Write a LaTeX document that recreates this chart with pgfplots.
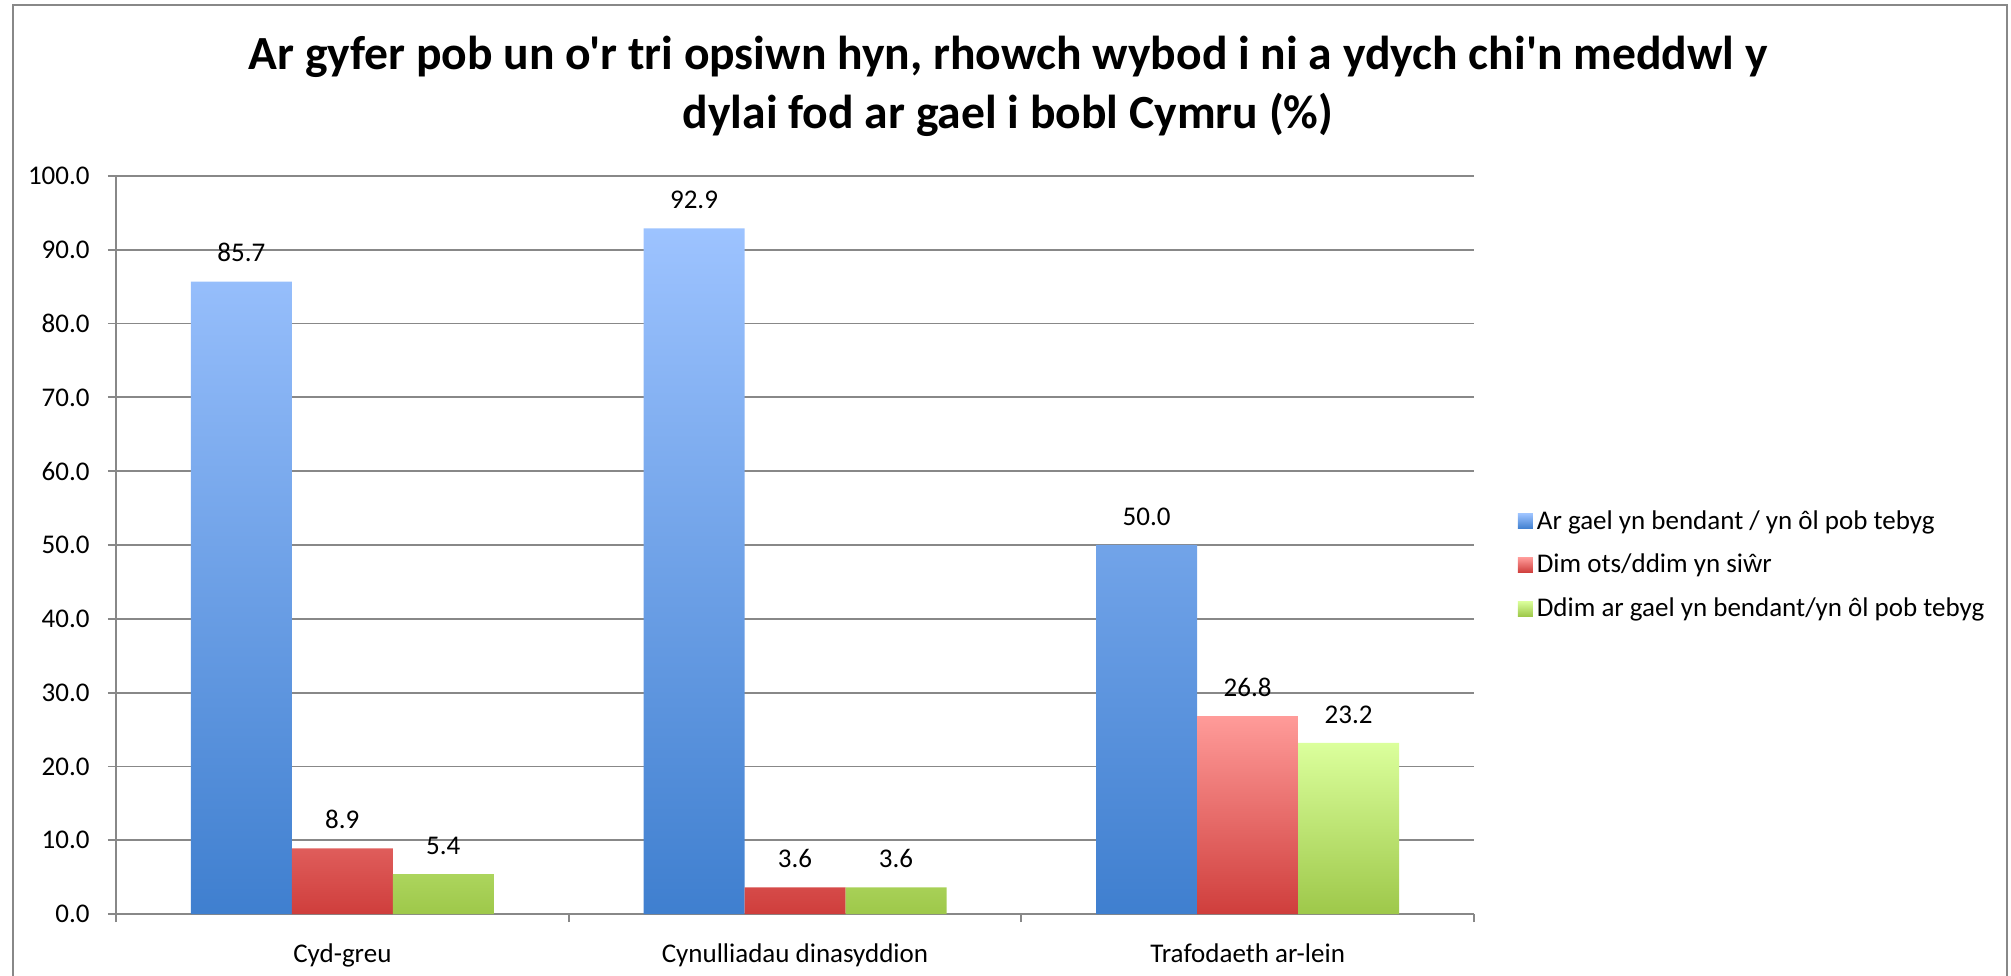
\documentclass[border=0pt]{standalone}
\usepackage{fontspec}
\setmainfont{Carlito}[Ligatures=TeXOff]
\usepackage{pgfplots}
\pgfplotsset{compat=1.18}
\definecolor{gridc}{HTML}{888888}
\definecolor{bluetop}{HTML}{9DC3FF}
\definecolor{bluebot}{HTML}{3F7FCF}
\definecolor{redtop}{HTML}{FF9B99}
\definecolor{redbot}{HTML}{CF3E3C}
\definecolor{greentop}{HTML}{DBFF9C}
\definecolor{greenbot}{HTML}{9EC84A}
\begin{document}
\begin{tikzpicture}
\useasboundingbox (0,0) rectangle (1005.5pt,487.5pt);
\draw[gridc, line width=1pt] (6.5pt,-3pt) -- (6.5pt,485pt) -- (1003.5pt,485pt) -- (1003.5pt,-3pt);
\node[font=\bfseries\fontsize{23.8}{28}\selectfont, anchor=base] at (504pt,452.5pt) {Ar gyfer pob un o'r tri opsiwn hyn, rhowch wybod i ni a ydych chi'n meddwl y};
\node[font=\bfseries\fontsize{23.8}{28}\selectfont, anchor=base] at (504pt,423pt) {dylai fod ar gael i bobl Cymru (\%)};
\begin{axis}[
  at={(58pt,30.5pt)}, anchor=south west,
  scale only axis, width=679pt, height=369pt,
  xmin=-0.5, xmax=2.5, ymin=0, ymax=100,
  axis lines*=left,
  axis line style={gridc, line width=0.9pt, -},
  ytick={0,10,...,100},
  ymajorgrids, grid style={gridc, line width=0.9pt},
  tick align=outside, major tick length=4pt,
  tick style={gridc, line width=0.9pt},
  xtick={-0.5,0.5,1.5,2.5}, xticklabels={},
  extra x ticks={0,1,2},
  extra x tick labels={Cyd-greu, Cynulliadau dinasyddion, Trafodaeth ar-lein},
  extra x tick style={major tick length=0pt, grid=none,
     xticklabel style={anchor=base, yshift=-24pt}},
  ticklabel style={font=\fontsize{13.5}{16}\selectfont},
  yticklabel style={anchor=east, inner sep=0pt, xshift=-9pt},
  /pgf/number format/.cd, fixed, fixed zerofill, precision=1, assume math mode=true,
  /pgfplots/.cd,
  ybar, bar width=50.5pt,
  nodes near coords,
  every node near coord/.append style={font=\fontsize{13.5}{16}\selectfont, text=black, anchor=south, inner sep=0pt, yshift=9.5pt},
  legend style={at={(1.032,0.473)}, anchor=west, draw=none, fill=none,
     font=\fontsize{13.5}{16}\selectfont, row sep=7pt, inner sep=0pt},
  legend cell align=left,
  legend image code/.code={\fill[#1] (0pt,-3.75pt) rectangle (7.5pt,3.75pt);},
]
\addplot[draw=none, top color=bluetop, bottom color=bluebot, bar shift=-50.5pt] coordinates {(0,85.7) (1,92.9) (2,50.0)};
\addplot[draw=none, top color=redtop, bottom color=redbot, bar shift=0pt] coordinates {(0,8.9) (1,3.6) (2,26.8)};
\addplot[draw=none, top color=greentop, bottom color=greenbot, bar shift=50.5pt] coordinates {(0,5.4) (1,3.6) (2,23.2)};
\legend{Ar gael yn bendant / yn ôl pob tebyg, Dim ots/ddim yn siŵr, Ddim ar gael yn bendant/yn ôl pob tebyg}
\end{axis}
\end{tikzpicture}
\end{document}
